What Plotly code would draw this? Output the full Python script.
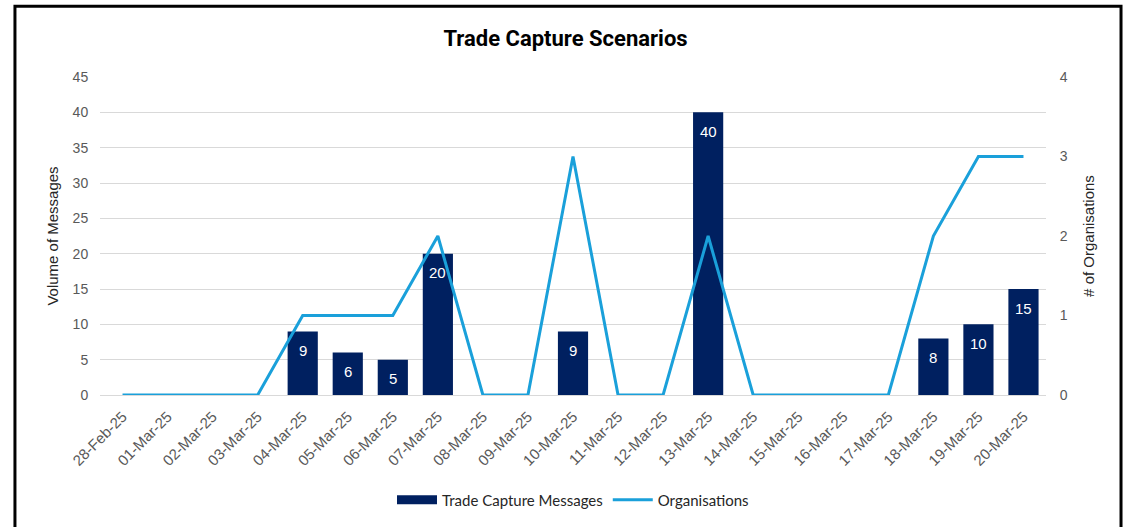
import plotly.graph_objects as go

dates = ["28-Feb-25", "01-Mar-25", "02-Mar-25", "03-Mar-25", "04-Mar-25", "05-Mar-25",
         "06-Mar-25", "07-Mar-25", "08-Mar-25", "09-Mar-25", "10-Mar-25", "11-Mar-25",
         "12-Mar-25", "13-Mar-25", "14-Mar-25", "15-Mar-25", "16-Mar-25", "17-Mar-25",
         "18-Mar-25", "19-Mar-25", "20-Mar-25"]
messages = [None, None, None, None, 9, 6, 5, 20, None, None, 9, None, None, 40,
            None, None, None, None, 8, 10, 15]
organisations = [0, 0, 0, 0, 1, 1, 1, 2, 0, 0, 3, 0, 0, 2, 0, 0, 0, 0, 2, 3, 3]

left_ticks = [0, 5, 10, 15, 20, 25, 30, 35, 40, 45]
right_ticks = [0, 1, 2, 3, 4]

BAR = "#002060"
LINE = "#1AA0DA"
TICK = "#595959"
GRID = "#D9D9D9"
FONT = "Liberation Sans, Arial"

fig = go.Figure()
fig.add_trace(go.Bar(x=dates, y=messages, name="Trade Capture Messages", showlegend=False,
                     marker=dict(color=BAR, line=dict(width=0)), yaxis="y"))
# legend proxy for the bar series (wide rectangle swatch)
fig.add_trace(go.Scatter(x=[dates[0]], y=[None], name="Trade Capture Messages", mode="lines",
                         line=dict(color=BAR, width=9), yaxis="y", hoverinfo="skip"))
fig.add_trace(go.Scatter(x=dates, y=organisations, name="Organisations", mode="lines",
                         line=dict(color=LINE, width=3), yaxis="y2"))

for d, v in zip(dates, messages):
    if v is not None:
        fig.add_annotation(x=d, y=v, xref="x", yref="y", text=str(v), showarrow=False,
                           yshift=-19, font=dict(family=FONT, size=15, color="white"))

fig.update_layout(
    width=1131, height=527,
    margin=dict(l=100, r=85, t=77, b=131),
    paper_bgcolor="white", plot_bgcolor="white",
    title=dict(text="<b>Trade Capture Scenarios</b>", x=0.5, xanchor="center", y=0.928, yanchor="middle",
               font=dict(family="Roboto, Lato, sans-serif", size=22, color="black")),
    bargap=0.33,
    showlegend=True,
    legend=dict(orientation="h", x=0.5, xanchor="center", y=-0.326, yanchor="middle",
                font=dict(family="Lato, Roboto, sans-serif", size=15, color="#262626"),
                tracegroupgap=0, itemwidth=40),
    xaxis=dict(type="category", tickangle=-45, showgrid=False, showline=False, zeroline=False,
               tickfont=dict(family=FONT, size=15, color=TICK), ticks="outside", ticklen=6,
               tickcolor="rgba(0,0,0,0)"),
    yaxis=dict(range=[0, 45], tickvals=left_ticks, showgrid=True, gridcolor=GRID, gridwidth=1,
               zeroline=True, zerolinecolor=GRID, zerolinewidth=1, showline=False,
               ticks="outside", ticklen=8, tickcolor="rgba(0,0,0,0)",
               tickfont=dict(family=FONT, size=14, color=TICK),
               title=dict(text="Volume of Messages", standoff=10,
                          font=dict(family=FONT, size=15, color="#262626"))),
    yaxis2=dict(range=[0, 4], tickvals=right_ticks, overlaying="y", side="right", showgrid=False,
                zeroline=False, showline=False, ticks="outside", ticklen=10,
                tickcolor="rgba(0,0,0,0)",
                tickfont=dict(family=FONT, size=14, color=TICK),
                title=dict(text="# of Organisations", standoff=16,
                           font=dict(family=FONT, size=15, color="#262626"))),
    shapes=[dict(type="rect", xref="paper", yref="paper", x0=-0.0899, x1=1.0793, y0=-0.6, y1=1.2226,
                 line=dict(color="black", width=3), fillcolor="rgba(0,0,0,0)", layer="above")],
)

fig.write_html("out.html", config={"displayModeBar": False},
               post_script="document.body.style.margin='0';")
